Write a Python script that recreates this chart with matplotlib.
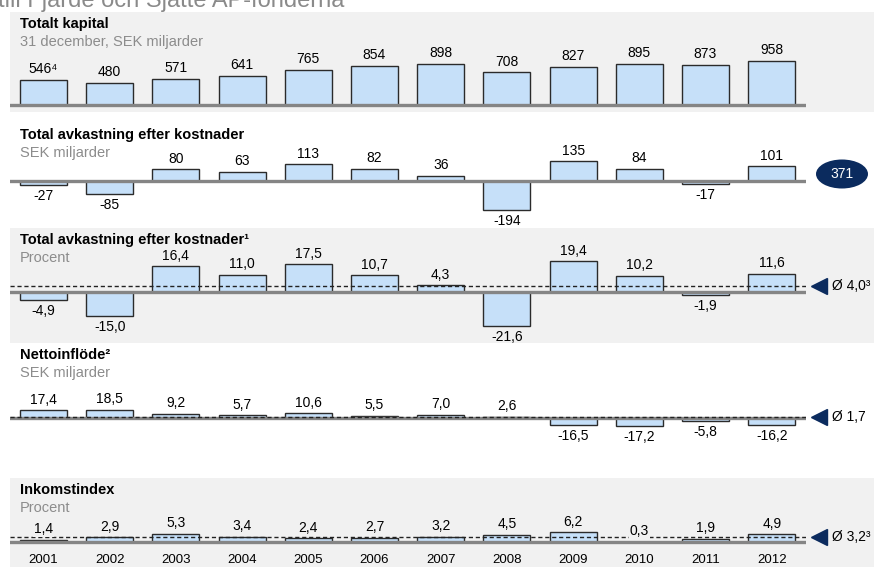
import numpy as np
import matplotlib
matplotlib.use('Agg')
import matplotlib.pyplot as plt
import matplotlib.patches as patches

plt.rcParams['font.family'] = ['Liberation Sans', 'DejaVu Sans']

W, H = 874, 567

years = ['2001', '2002', '2003', '2004', '2005', '2006',
         '2007', '2008', '2009', '2010', '2011', '2012']
kapital = [546, 480, 571, 641, 765, 854, 898, 708, 827, 895, 873, 958]
avk_sek = [-27, -85, 80, 63, 113, 82, 36, -194, 135, 84, -17, 101]
avk_pct = [-4.9, -15.0, 16.4, 11.0, 17.5, 10.7, 4.3, -21.6, 19.4, 10.2, -1.9, 11.6]
netto = [17.4, 18.5, 9.2, 5.7, 10.6, 5.5, 7.0, 2.6, -16.5, -17.2, -5.8, -16.2]
inkomst = [1.4, 2.9, 5.3, 3.4, 2.4, 2.7, 3.2, 4.5, 6.2, 0.3, 1.9, 4.9]
avk_sum = 371
avg_pct = 4.0
avg_netto = 1.7
avg_inkomst = 3.2

BAR = '#c6e0f9'
EDGE = '#2b2b2b'
BASE = '#858585'
BG = '#f1f1f1'
NAVY = '#0b2b5e'
SUB = '#8c8c8c'

fig = plt.figure(figsize=(W / 100, H / 100), dpi=100)


def fx(px):
    return px / W


def fy(py):
    return 1 - py / H


# gray bands behind panels 1, 3, 5
for top, bottom in [(12, 112), (228, 343), (478, 567)]:
    fig.patches.append(patches.Rectangle((fx(10), fy(bottom)), fx(864), (bottom - top) / H,
                                         transform=fig.transFigure, facecolor=BG,
                                         edgecolor='none', zorder=-5))

fig.text(fx(-2), fy(7), 'till Fjärde och Sjätte AP-fonderna', fontsize=17,
         color='#8a8a8a', va='baseline', ha='left')

x = np.arange(len(years))
pitch = 66.2
left_px, right_px = 10, 806
xmin = -(43.5 - left_px) / pitch
xmax = xmin + (right_px - left_px) / pitch


def panel(values, labels, y0, k, top, bottom, title, subtitle, avg=None,
          avg_text=None, label_bg=None):
    ax = fig.add_axes([fx(left_px), fy(bottom), fx(right_px - left_px), (bottom - top) / H])
    ax.set_xlim(xmin, xmax)
    ax.set_ylim(-(bottom - y0) / k, (y0 - top) / k)
    ax.axis('off')
    ax.patch.set_alpha(0)
    ax.bar(x, values, width=0.71, color=BAR, edgecolor=EDGE, linewidth=1.0, zorder=2)
    ax.axhline(0, color=BASE, lw=2.4, zorder=3)
    if avg is not None:
        ax.axhline(avg, color='#222222', lw=1.0, dashes=(3, 2), zorder=4)
        ax.plot([1.016], [avg], marker='<', ms=11, color=NAVY,
                transform=ax.get_yaxis_transform(), clip_on=False)
        ax.text(1.033, avg, avg_text, transform=ax.get_yaxis_transform(),
                fontsize=10, va='center', ha='left')
    for xi, v, lab in zip(x, values, labels):
        kw = {}
        if label_bg is not None:
            kw['bbox'] = dict(facecolor=label_bg, edgecolor='none', pad=0.6)
        ax.annotate(lab, (xi, v), xytext=(0, 2.5 if v >= 0 else -3),
                    textcoords='offset points', ha='center',
                    va='bottom' if v >= 0 else 'top', fontsize=10, zorder=5, **kw)
    fig.text(fx(20), fy(top + 12), title, fontsize=10.5, fontweight='bold', va='center')
    fig.text(fx(20), fy(top + 30), subtitle, fontsize=10.5, color=SUB, va='center')
    return ax


def comma(v):
    return f'{v:.1f}'.replace('.', ',')


kap_labels = [str(v) for v in kapital]
kap_labels[0] += '⁴'
panel(kapital, kap_labels, 105, 0.046, 12, 112,
      'Totalt kapital', '31 december, SEK miljarder')

panel(avk_sek, [str(v) for v in avk_sek], 181, 0.148, 123, 225,
      'Total avkastning efter kostnader', 'SEK miljarder')
fig.patches.append(patches.Ellipse((fx(842), fy(174)), fx(52), 29 / H,
                                   transform=fig.transFigure, facecolor=NAVY,
                                   edgecolor='none', zorder=5))
fig.text(fx(842), fy(174), str(avk_sum), color='white', fontsize=10,
         ha='center', va='center', zorder=6)

panel(avk_pct, [comma(v) for v in avk_pct], 292, 1.58, 228, 343,
      'Total avkastning efter kostnader¹', 'Procent', avg=avg_pct,
      avg_text='Ø ' + comma(avg_pct) + '³')

panel(netto, [comma(v) for v in netto], 418, 0.44, 343, 460,
      'Nettoinflöde²', 'SEK miljarder', avg=avg_netto,
      avg_text='Ø ' + comma(avg_netto))

ax5 = panel(inkomst, [comma(v) for v in inkomst], 542, 1.6, 478, 567,
            'Inkomstindex', 'Procent', avg=avg_inkomst,
            avg_text='Ø ' + comma(avg_inkomst) + '³', label_bg=BG)
for xi, yr in zip(x, years):
    ax5.text(xi, 0.075, yr, transform=ax5.get_xaxis_transform(), ha='center',
             va='center', fontsize=9.5)

fig.savefig('out.png', dpi=100)
